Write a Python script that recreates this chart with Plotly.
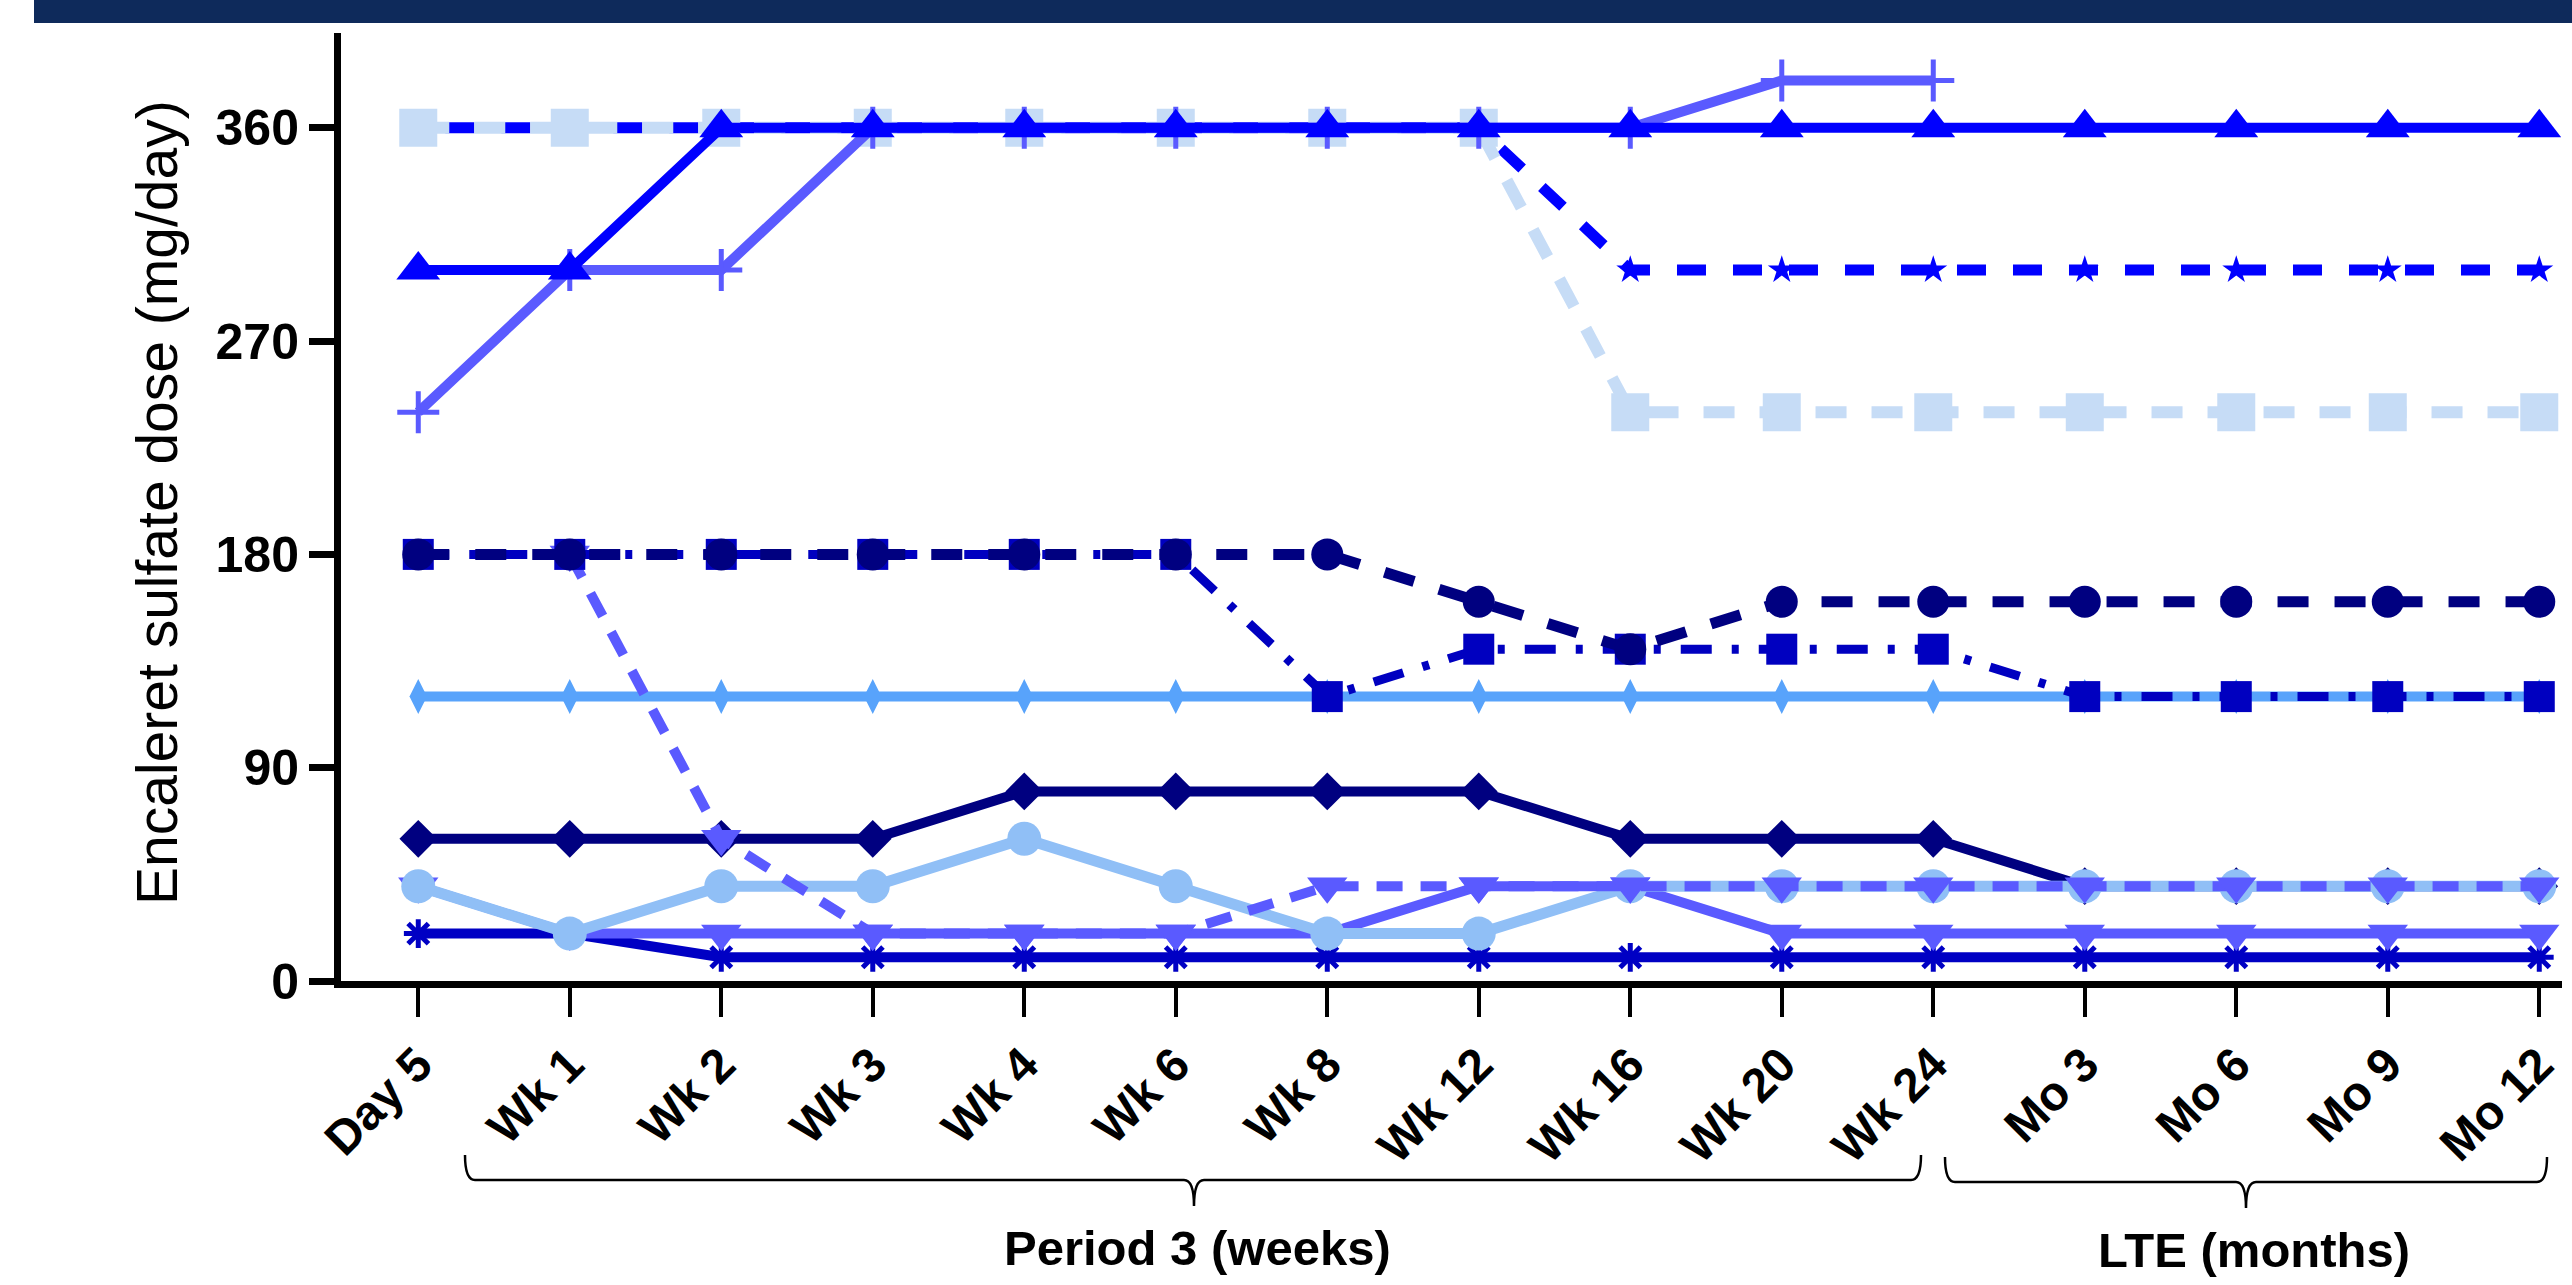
import plotly.graph_objects as go

# ---------------- data ----------------
categories = ["Day 5", "Wk 1", "Wk 2", "Wk 3", "Wk 4", "Wk 6", "Wk 8", "Wk 12",
              "Wk 16", "Wk 20", "Wk 24", "Mo 3", "Mo 6", "Mo 9", "Mo 12"]
N = None
dose_a = [300, 300, 360, 360, 360, 360, 360, 360, 360, 360, 360, 360, 360, 360, 360]
dose_b = [240, 300, 300, 360, 360, 360, 360, 360, 360, 380, 380, N, N, N, N]
dose_c = [360, 360, 360, 360, 360, 360, 360, 360, 240, 240, 240, 240, 240, 240, 240]
dose_d = [360, 360, 360, 360, 360, 360, 360, 360, 300, 300, 300, 300, 300, 300, 300]
dose_e = [180, 180, 180, 180, 180, 180, 180, 160, 140, 160, 160, 160, 160, 160, 160]
dose_f = [180, 180, 180, 180, 180, 180, 120, 140, 140, 140, 140, 120, 120, 120, 120]
dose_g = [N, 180, 60, 20, 20, 20, 40, 40, 40, 40, 40, 40, 40, 40, 40]
dose_h = [40, 20, 20, 20, 20, 20, 20, 40, 40, 20, 20, 20, 20, 20, 20]
dose_i = [40, 20, 40, 40, 60, 40, 20, 20, 40, 40, 40, 40, 40, 40, 40]
dose_j = [60, 60, 60, 60, 80, 80, 80, 80, 60, 60, 60, 40, 40, 40, 40]
dose_k = [120, 120, 120, 120, 120, 120, 120, 120, 120, 120, 120, 120, 120, 120, 120]
dose_l = [20, 20, 10, 10, 10, 10, 10, 10, 10, 10, 10, 10, 10, 10, 10]
y_ticks = [0, 90, 180, 270, 360]
y_title = "Encaleret sulfate dose (mg/day)"
group_labels = ["Period 3 (weeks)", "LTE (months)"]

# ---------------- layout geometry (pixels) ----------------
FIG_W, FIG_H = 2572, 1285
L, R, T, B = 341, 2562, 33, 981
PW, PH = R - L, B - T


def px_x(px):
    return (px - L) / PW


def px_y(py):
    return (B - py) / PH


FONT = "Liberation Sans, Arial, Helvetica, sans-serif"

series = [
    # values, color, width, dash, symbol, size
    (dose_d, "#0000FF", 11, "0px,27px,29px,0px", "star", 21),
    (dose_c, "#C6DCF6", 12, "31px,25px", "square", 38),
    (dose_b, "#5A5AFF", 10, "solid", "cross-thin", 30),
    (dose_a, "#0000FF", 10, "solid", "triangle-up", 38),
    (dose_k, "#58A3FB", 10, "solid", "diamond-tall", 25),
    (dose_j, "#000080", 10, "solid", "diamond", 29),
    (dose_l, "#0000C4", 10, "solid", "asterisk-open", 24),
    (dose_h, "#5A5AFF", 10, "solid", "triangle-down", 35),
    (dose_i, "#90BFF6", 11, "solid", "circle", 34),
    (dose_g, "#5A5AFF", 10, "26px,18px", "triangle-down", 35),
    (dose_f, "#0000C0", 9, "31px,20px,7px,20px", "square", 31),
    (dose_e, "#000080", 11, "31px,26px", "circle", 32),
]

fig = go.Figure()
for vals, color, width, dash, symbol, size in series:
    marker = dict(symbol=symbol, size=size, color=color)
    if symbol in ("cross-thin", "asterisk-open"):
        marker["line"] = dict(color=color, width=5)
    else:
        marker["line"] = dict(width=0)
    fig.add_trace(go.Scatter(
        x=categories, y=vals, mode="lines+markers",
        line=dict(color=color, width=width, dash=dash),
        marker=marker, connectgaps=False, showlegend=False,
        hoverinfo="x+y",
    ))

fig.update_layout(
    width=FIG_W, height=FIG_H,
    margin=dict(l=L, r=FIG_W - R, t=T, b=FIG_H - B, pad=0),
    paper_bgcolor="white", plot_bgcolor="white",
    font=dict(family=FONT, color="black"),
    showlegend=False,
)

fig.update_xaxes(
    type="category", categoryorder="array", categoryarray=categories,
    range=[-0.51, 14.15],
    showline=True, linecolor="black", linewidth=7,
    ticks="outside", ticklen=29, tickwidth=4, tickcolor="black",
    tickangle=-45,
    tickfont=dict(family=FONT, size=48, color="black", weight="bold"),
    showgrid=False, zeroline=False,
)
fig.update_yaxes(
    range=[0, 400],
    tickmode="array", tickvals=y_ticks, ticktext=[str(v) for v in y_ticks],
    showline=True, linecolor="black", linewidth=7,
    ticks="outside", ticklen=25, tickwidth=7, tickcolor="black",
    tickfont=dict(family=FONT, size=50, color="black", weight="bold"),
    showgrid=False, zeroline=False,
)

shapes = []
# header bar
shapes.append(dict(type="rect", xref="paper", yref="paper",
                   x0=px_x(34), x1=px_x(2600), y0=px_y(23), y1=px_y(-5),
                   fillcolor="#0E2A5B", line=dict(width=0), layer="above"))


def brace(x0, x1, tip, ytop, yh, ytip, r=10):
    p = (f"M {px_x(x0)},{px_y(ytop)} "
         f"Q {px_x(x0)},{px_y(yh)} {px_x(x0 + r)},{px_y(yh)} "
         f"L {px_x(tip - r)},{px_y(yh)} "
         f"Q {px_x(tip)},{px_y(yh)} {px_x(tip)},{px_y(ytip)} "
         f"Q {px_x(tip)},{px_y(yh)} {px_x(tip + r)},{px_y(yh)} "
         f"L {px_x(x1 - r)},{px_y(yh)} "
         f"Q {px_x(x1)},{px_y(yh)} {px_x(x1)},{px_y(ytop)}")
    return dict(type="path", xref="paper", yref="paper", path=p,
                line=dict(color="black", width=2.5))


shapes.append(brace(465, 1921, 1194, 1155, 1180, 1206))
shapes.append(brace(1945, 2547, 2246, 1157, 1182, 1208))
fig.update_layout(shapes=shapes)

annotations = [
    dict(text=y_title, xref="paper", yref="paper", x=px_x(157), y=px_y(503),
         xanchor="center", yanchor="middle", textangle=-90, showarrow=False,
         font=dict(family=FONT, size=57, color="black")),
    dict(text=group_labels[0], xref="paper", yref="paper", x=px_x(1197), y=px_y(1248),
         xanchor="center", yanchor="middle", showarrow=False,
         font=dict(family=FONT, size=49, color="black", weight="bold")),
    dict(text=group_labels[1], xref="paper", yref="paper", x=px_x(2254), y=px_y(1250),
         xanchor="center", yanchor="middle", showarrow=False,
         font=dict(family=FONT, size=49, color="black", weight="bold")),
]
fig.update_layout(annotations=annotations)

fig.write_html("out.html", config={"displayModeBar": False},
               post_script="document.body.style.margin='0';document.body.style.overflow='hidden';")
